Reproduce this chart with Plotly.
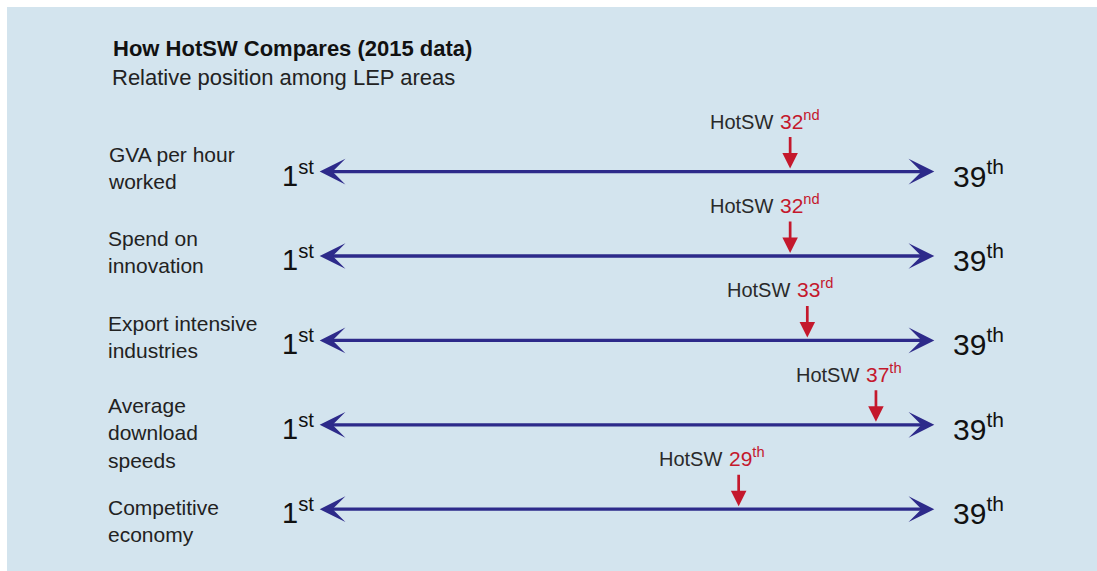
import plotly.graph_objects as go

# ---- data ----
categories = [
    "GVA per hour<br>worked",
    "Spend on<br>innovation",
    "Export intensive<br>industries",
    "Average<br>download<br>speeds",
    "Competitive<br>economy",
]
hotsw_rank = [32, 32, 33, 37, 29]
rank_suffix = ["nd", "nd", "rd", "th", "th"]
scale_min_label = ("1", "st")
scale_max_label = ("39", "th")
title_text = "How HotSW Compares (2015 data)"
subtitle_text = "Relative position among LEP areas"

# ---- style / layout constants ----
W, H = 1097, 571
PANEL = "#d3e4ee"
NAVY = "#2d2a8a"
RED = "#c4182c"
TXT = "#222222"
FONT = "Liberation Sans, Arial, sans-serif"
ARROW_L, ARROW_R = 4.5, 40.4          # ends of the double arrow on the rank axis
X_RANGE = [-14.04, 49.88]
Y_RANGE = [4.732, -2.033]
LABEL_NUDGE = [0, 0, -1, 2, -16]      # px (positive = up)

fig = go.Figure()
# invisible trace to establish axes
fig.add_trace(go.Scatter(x=hotsw_rank, y=list(range(len(categories))), mode="markers",
                         marker=dict(opacity=0), hoverinfo="skip", showlegend=False))

ann = []
shapes = [dict(type="rect", xref="paper", yref="paper", x0=7 / W, x1=1.01, y0=-0.01,
               y1=1 - 7 / H, fillcolor=PANEL, line=dict(width=0), layer="below")]

ann.append(dict(xref="paper", yref="paper", x=111 / W, y=1 - 49 / H, xanchor="left",
                yanchor="middle", showarrow=False, text="<b>" + title_text + "</b>",
                font=dict(family=FONT, size=22, color="#111")))
ann.append(dict(xref="paper", yref="paper", x=110 / W, y=1 - 77 / H, xanchor="left",
                yanchor="middle", showarrow=False, text=subtitle_text,
                font=dict(family=FONT, size=22, color=TXT)))

for i, cat in enumerate(categories):
    # row label
    ann.append(dict(xref="paper", yref="y", x=106 / W, y=i, xanchor="left", yanchor="top",
                    yshift=31 + LABEL_NUDGE[i], align="left", showarrow=False, text=cat,
                    font=dict(family=FONT, size=21, color=TXT)))
    # double-headed scale arrow
    ann.append(dict(xref="x", yref="y", axref="x", ayref="y", x=ARROW_R, y=i,
                    ax=ARROW_L, ay=i, text="", showarrow=True, arrowside="end+start",
                    arrowhead=3, startarrowhead=3, arrowsize=1.3, startarrowsize=1.3,
                    arrowwidth=3.3, arrowcolor=NAVY))
    # scale end labels
    ann.append(dict(xref="x", yref="y", x=ARROW_L, y=i, xanchor="right", yanchor="middle",
                    xshift=-2, yshift=-2, showarrow=False,
                    text=f"{scale_min_label[0]}<sup>{scale_min_label[1]}</sup>",
                    font=dict(family=FONT, size=29, color="#111")))
    ann.append(dict(xref="x", yref="y", x=ARROW_R, y=i, xanchor="left", yanchor="middle",
                    xshift=17, yshift=-2, showarrow=False,
                    text=f"{scale_max_label[0]}<sup>{scale_max_label[1]}</sup>",
                    font=dict(family=FONT, size=30, color="#111")))
    # HotSW marker arrow
    r = hotsw_rank[i]
    ann.append(dict(xref="x", yref="y", x=r, y=i, ax=0, ay=-36, text="", showarrow=True,
                    arrowhead=2, arrowsize=1.15, arrowwidth=2.7, arrowcolor=RED, standoff=3))
    ann.append(dict(xref="x", yref="y", x=r, y=i, xanchor="left", yanchor="bottom",
                    xshift=-12, yshift=37, showarrow=False,
                    text=f"{r}<sup>{rank_suffix[i]}</sup>",
                    font=dict(family=FONT, size=21, color=RED)))
    ann.append(dict(xref="x", yref="y", x=r, y=i, xanchor="right", yanchor="bottom",
                    xshift=-15, yshift=37, showarrow=False, text="HotSW",
                    font=dict(family=FONT, size=20, color="#2a2a2a")))

fig.update_layout(
    width=W, height=H, margin=dict(l=0, r=0, t=0, b=0),
    paper_bgcolor="white", plot_bgcolor="rgba(0,0,0,0)",
    xaxis=dict(range=X_RANGE, visible=False, fixedrange=True),
    yaxis=dict(range=Y_RANGE, visible=False, fixedrange=True),
    annotations=ann, shapes=shapes, showlegend=False,
)
fig.write_html("out.html", config=dict(displayModeBar=False))
